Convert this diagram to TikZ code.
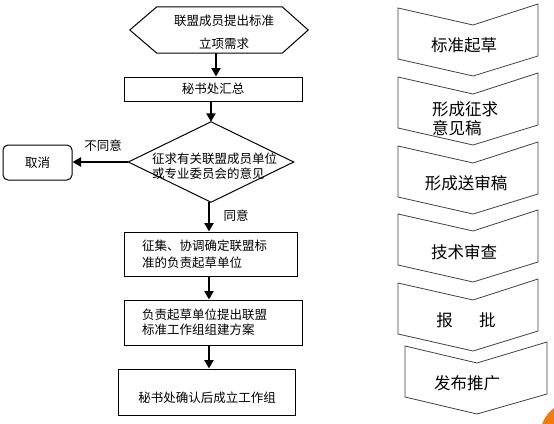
\documentclass[tikz,border=0pt]{standalone}
\usepackage{fontspec}
\usetikzlibrary{arrows.meta}
\newfontfamily\cjk{Noto Sans CJK SC}
\newcommand\chevshape[4]{%
  \draw[chev] (#1,#4) -- (#2,#4+17) -- (#3,#4-4) -- (#3,#4+48) -- (#2,#4+68) -- (#1,#4+51) -- cycle;}
\begin{document}
\begin{tikzpicture}[x=1pt,y=-1pt,
  every node/.style={font=\cjk\fontsize{12.5pt}{15pt}\selectfont, inner sep=0pt},
  box/.style={draw=black, line width=1pt},
  arr/.style={line width=2.8pt, -{Triangle[length=8.5pt,width=9pt]}},
  chev/.style={draw=black!75, line width=0.8pt},
  rt/.style={font=\cjk\fontsize{16.5pt}{19pt}\selectfont}]
\useasboundingbox (0,0) rectangle (554,423);
\begin{scope}
  \clip (0,0) rectangle (554,423);
  \fill[color={rgb,255:red,240;green,125;blue,20}] (575,436) circle[radius=35pt];
\end{scope}
% hexagon
\node[minimum width=178pt, minimum height=46pt] (hex) at (219,30) {};
\draw[box] (hex.west) -- ([xshift=27pt]hex.north west) -- ([xshift=-26pt]hex.north east) -- (hex.east) -- ([xshift=-26pt]hex.south east) -- ([xshift=27pt]hex.south west) -- cycle;
\node (hext1) at (224,21) {联盟成员提出标准};
\node (hext2) at (224,44) {立项需求};
% summary
\node[box, minimum width=178pt, minimum height=24pt] (sum) at (213,89) {秘书处汇总};
% diamond
\node[minimum width=165pt, minimum height=80pt] (dia) at (211,162) {};
\draw[box] (dia.north) -- (dia.east) -- (dia.south) -- (dia.west) -- cycle;
\node[anchor=west, align=left] (diat) at (152,166) {征求有关联盟成员单位\\或专业委员会的意见};
% cancel
\node[box, rounded corners=5pt, minimum width=69pt, minimum height=35pt] (cancel) at (37.5,162.5) {取消};
\node (no) at (103,146) {不同意};
\node (yes) at (236,216) {同意};
% collect
\node[box, minimum width=173pt, minimum height=44pt, text width=137pt, inner xsep=18pt, align=left, font=\cjk\fontsize{12.5pt}{17pt}\selectfont] (coll) at (210.5,254) {征集、协调确定联盟标\\准的负责起草单位};
% responsible
\node[box, minimum width=178pt, minimum height=45pt, text width=142pt, inner xsep=18pt, align=left] (resp) at (213,322.5) {负责起草单位提出联盟\\标准工作组组建方案};
% confirm
\node[box, minimum width=177pt, minimum height=46pt] (conf) at (206.5,392) {};
\node (conft) at (207,397.5) {秘书处确认后成立工作组};
% arrows
\draw[arr] ([xshift=-3pt]hex.south) -- ([xshift=-3pt]hex.south |- sum.north);
\draw[arr] (sum.south -| dia.north) -- (dia.north);
\draw[arr] (dia.west) -- (dia.west -| cancel.east);
\draw[arr] ([xshift=-2pt]dia.south) -- ([xshift=-2pt]dia.south |- coll.north);
\draw[arr] (coll.south -| 209,0) -- (resp.north -| 209,0);
\draw[arr] (resp.south -| 209,0) -- (conf.north -| 209,0);
% right chevrons
\chevshape{398}{473}{538}{8}
\chevshape{398}{473}{538}{77}
\chevshape{398}{473}{538}{146}
\chevshape{398}{473}{538}{214}
\chevshape{398}{473}{538}{283}
\chevshape{405}{477}{547}{346}
\node[rt] (c1) at (464,45) {标准起草};
\node[rt, anchor=west, align=left] (c2) at (432,118.5) {形成征求\\意见稿};
\node[rt] (c3) at (466,183) {形成送审稿};
\node[rt] (c4) at (464,252) {技术审查};
\node[rt] (c5) at (466,320) {报\hspace{1.6em}批};
\node[rt] (c6) at (467,383) {发布推广};
\end{tikzpicture}
\end{document}
